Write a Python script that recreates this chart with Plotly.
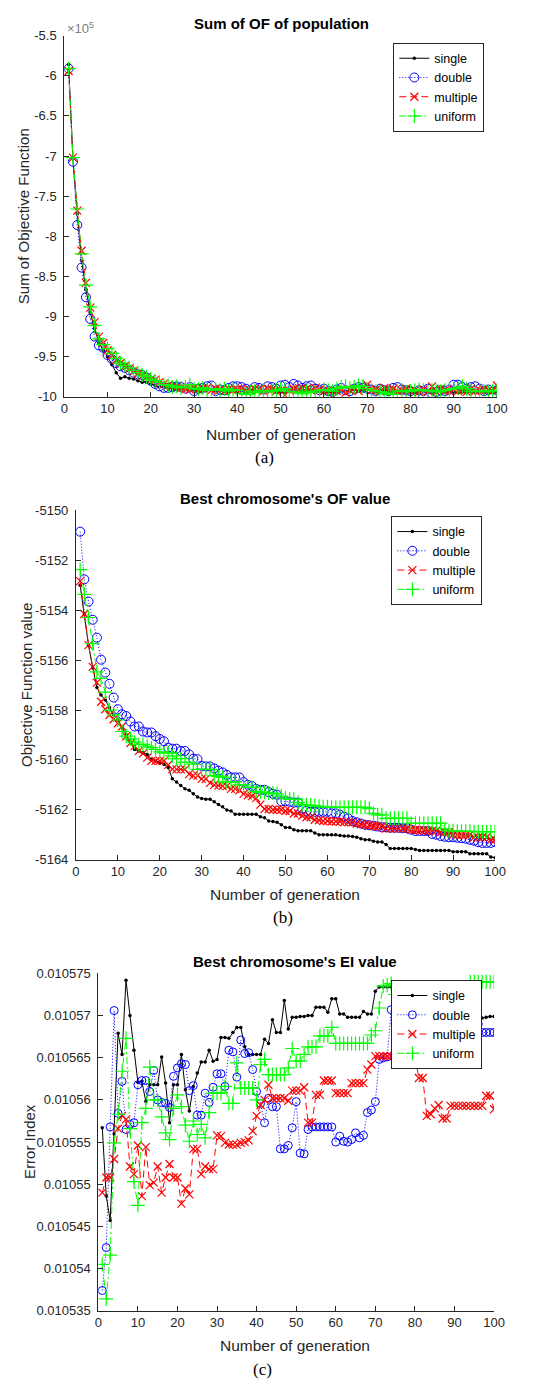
import plotly.graph_objects as go

# ---------------- data ----------------
# (a) Sum of OF of population, values in units of 1e5
single_a = [-5.86, -7.03, -7.72, -8.30, -8.66, -8.95, -9.15, -9.33, -9.42, -9.50,
            -9.60, -9.70, -9.77, -9.75, -9.77, -9.78, -9.80, -9.82, -9.82, -9.84,
            -9.86, -9.88, -9.88, -9.89, -9.90, -9.89, -9.90, -9.90, -9.91, -9.92,
            -9.90, -9.91, -9.92, -9.91, -9.93, -9.92, -9.91, -9.93, -9.92, -9.93,
            -9.92, -9.94, -9.93, -9.92, -9.93, -9.94, -9.93, -9.92, -9.93, -9.94,
            -9.95, -9.93, -9.92, -9.94, -9.93, -9.92, -9.93, -9.94, -9.93, -9.92,
            -9.94, -9.95, -9.93, -9.92, -9.93, -9.92, -9.91, -9.93, -9.92, -9.91,
            -9.93, -9.94, -9.93, -9.92, -9.94, -9.93, -9.95, -9.94, -9.93, -9.94,
            -9.95, -9.94, -9.93, -9.94, -9.95, -9.94, -9.93, -9.94, -9.93, -9.94,
            -9.95, -9.94, -9.93, -9.94, -9.95, -9.94, -9.95, -9.94, -9.95, -9.94]
double_a = [-5.91, -7.07, -7.86, -8.39, -8.76, -9.03, -9.25, -9.36, -9.39, -9.48,
            -9.53, -9.58, -9.62, -9.64, -9.67, -9.70, -9.72, -9.73, -9.76, -9.80,
            -9.84, -9.87, -9.89, -9.89, -9.88, -9.87, -9.88, -9.90, -9.88, -9.93,
            -9.90, -9.89, -9.87, -9.86, -9.93, -9.91, -9.92, -9.89, -9.87, -9.87,
            -9.88, -9.90, -9.92, -9.88, -9.89, -9.91, -9.87, -9.88, -9.90, -9.86,
            -9.85, -9.88, -9.84, -9.86, -9.89, -9.87, -9.86, -9.90, -9.92, -9.90,
            -9.93, -9.94, -9.91, -9.89, -9.92, -9.93, -9.90, -9.88, -9.89, -9.90,
            -9.91, -9.93, -9.90, -9.92, -9.93, -9.89, -9.88, -9.91, -9.92, -9.93,
            -9.97, -9.92, -9.93, -9.90, -9.96, -9.94, -9.92, -9.93, -9.91, -9.85,
            -9.85, -9.88, -9.90, -9.88, -9.87, -9.90, -9.93, -9.91, -9.97, -9.92]
multiple_a = [-5.94, -7.02, -7.68, -8.18, -8.58, -8.89, -9.07, -9.25, -9.33, -9.42,
              -9.48, -9.54, -9.58, -9.62, -9.65, -9.68, -9.71, -9.74, -9.76, -9.78,
              -9.79, -9.82, -9.84, -9.86, -9.87, -9.88, -9.89, -9.90, -9.91, -9.89,
              -9.91, -9.90, -9.89, -9.92, -9.90, -9.91, -9.93, -9.90, -9.92, -9.91,
              -9.90, -9.93, -9.92, -9.90, -9.91, -9.93, -9.90, -9.91, -9.93, -9.92,
              -9.98, -9.92, -9.90, -9.91, -9.89, -9.90, -9.92, -9.89, -9.91, -9.93,
              -9.92, -9.98, -9.93, -9.91, -9.95, -9.92, -9.90, -9.93, -9.89, -9.85,
              -9.92, -9.91, -9.93, -9.89, -9.92, -9.90, -9.93, -9.92, -9.90, -9.93,
              -9.92, -9.94, -9.91, -9.93, -9.87, -9.94, -9.90, -9.92, -9.93, -9.91,
              -9.93, -9.92, -9.94, -9.90, -9.93, -9.92, -9.91, -9.92, -9.93, -9.86]
uniform_a = [-5.91, -7.02, -7.66, -8.22, -8.61, -8.88, -9.11, -9.28, -9.35, -9.40,
             -9.46, -9.52, -9.58, -9.61, -9.64, -9.67, -9.70, -9.73, -9.75, -9.78,
             -9.80, -9.82, -9.85, -9.86, -9.88, -9.87, -9.89, -9.88, -9.85, -9.90,
             -9.91, -9.89, -9.92, -9.90, -9.91, -9.92, -9.90, -9.93, -9.91, -9.92,
             -9.96, -9.97, -9.94, -9.93, -9.95, -9.92, -9.94, -9.93, -9.92, -9.91,
             -9.90, -9.93, -9.94, -9.95, -9.96, -9.93, -9.95, -9.94, -9.92, -9.91,
             -9.92, -9.93, -9.90, -9.88, -9.87, -9.89, -9.88, -9.86, -9.87, -9.90,
             -9.92, -9.93, -9.94, -9.96, -9.95, -9.97, -9.93, -9.92, -9.94, -9.93,
             -9.92, -9.91, -9.92, -9.93, -9.92, -9.94, -9.93, -9.92, -9.91, -9.90,
             -9.89, -9.87, -9.90, -9.93, -9.94, -9.92, -9.93, -9.94, -9.93, -9.92]

# (b) Best chromosome's OF value
single_b = [-5153.0, -5154.15, -5155.4, -5156.3, -5157.1, -5157.4, -5157.6, -5157.9, -5158.2, -5158.4,
            -5158.7, -5159.0, -5159.3, -5159.58, -5159.64, -5159.71, -5159.78, -5159.97, -5160.04, -5160.1,
            -5160.17, -5160.3, -5160.76, -5160.89, -5161.03, -5161.16, -5161.22, -5161.36, -5161.49, -5161.55,
            -5161.58, -5161.58, -5161.68, -5161.79, -5161.88, -5162.01, -5162.05, -5162.18, -5162.18, -5162.18,
            -5162.18, -5162.18, -5162.18, -5162.28, -5162.32, -5162.45, -5162.47, -5162.5, -5162.6, -5162.71,
            -5162.71, -5162.8, -5162.84, -5162.84, -5162.84, -5162.84, -5162.93, -5163.0, -5163.0, -5163.0,
            -5163.0, -5163.0, -5163.03, -5163.05, -5163.05, -5163.07, -5163.1, -5163.16, -5163.2, -5163.2,
            -5163.26, -5163.29, -5163.29, -5163.39, -5163.55, -5163.55, -5163.55, -5163.55, -5163.55, -5163.55,
            -5163.59, -5163.63, -5163.63, -5163.63, -5163.63, -5163.63, -5163.63, -5163.63, -5163.63, -5163.68,
            -5163.68, -5163.68, -5163.68, -5163.76, -5163.76, -5163.76, -5163.76, -5163.76, -5163.89, -5163.92]
double_b = [-5150.85, -5152.76, -5153.65, -5154.38, -5155.1, -5155.98, -5156.5, -5156.95, -5157.5, -5157.97,
            -5158.17, -5158.24, -5158.46, -5158.66, -5158.66, -5158.86, -5158.9, -5158.9, -5159.05, -5159.16,
            -5159.25, -5159.51, -5159.55, -5159.55, -5159.64, -5159.64, -5159.78, -5159.95, -5159.97, -5160.24,
            -5160.26, -5160.26, -5160.34, -5160.43, -5160.5, -5160.6, -5160.7, -5160.7, -5160.7, -5160.89,
            -5161.0, -5161.05, -5161.16, -5161.2, -5161.2, -5161.29, -5161.36, -5161.4, -5161.66, -5161.66,
            -5161.68, -5161.71, -5161.71, -5161.95, -5162.05, -5162.08, -5162.08, -5162.08, -5162.08, -5162.08,
            -5162.14, -5162.14, -5162.2, -5162.28, -5162.34, -5162.45, -5162.5, -5162.55, -5162.6, -5162.62,
            -5162.64, -5162.67, -5162.7, -5162.7, -5162.72, -5162.72, -5162.72, -5162.74, -5162.74, -5162.8,
            -5162.85, -5162.85, -5162.85, -5162.85, -5162.97, -5163.0, -5163.05, -5163.08, -5163.1, -5163.1,
            -5163.12, -5163.14, -5163.16, -5163.2, -5163.24, -5163.3, -5163.33, -5163.33, -5163.33, -5163.29]
multiple_b = [-5152.83, -5154.15, -5155.4, -5156.27, -5156.9, -5157.67, -5157.97, -5158.2, -5158.37, -5158.53,
              -5158.66, -5159.05, -5159.32, -5159.45, -5159.64, -5159.74, -5159.91, -5160.04, -5160.04, -5160.04,
              -5160.04, -5160.2, -5160.37, -5160.38, -5160.38, -5160.38, -5160.57, -5160.63, -5160.63, -5160.76,
              -5160.76, -5160.92, -5161.0, -5161.03, -5161.05, -5161.05, -5161.16, -5161.16, -5161.22, -5161.36,
              -5161.42, -5161.45, -5161.53, -5161.79, -5161.97, -5161.97, -5162.0, -5162.0, -5162.0, -5162.05,
              -5162.05, -5162.15, -5162.15, -5162.24, -5162.3, -5162.3, -5162.4, -5162.42, -5162.45, -5162.45,
              -5162.47, -5162.47, -5162.47, -5162.5, -5162.5, -5162.5, -5162.55, -5162.58, -5162.6, -5162.62,
              -5162.64, -5162.66, -5162.67, -5162.75, -5162.75, -5162.75, -5162.75, -5162.75, -5162.75, -5162.8,
              -5162.8, -5162.82, -5162.82, -5162.84, -5162.84, -5162.84, -5162.9, -5162.9, -5162.9, -5163.0,
              -5163.0, -5163.0, -5163.0, -5163.0, -5163.1, -5163.1, -5163.1, -5163.1, -5163.2, -5163.2]
uniform_b = [-5152.37, -5153.36, -5154.29, -5155.34, -5156.47, -5156.73, -5157.28, -5158.0, -5158.2, -5158.4,
             -5158.86, -5159.05, -5159.16, -5159.29, -5159.38, -5159.38, -5159.45, -5159.51, -5159.58, -5159.68,
             -5159.72, -5159.72, -5159.84, -5159.95, -5159.95, -5160.1, -5160.1, -5160.17, -5160.38, -5160.38,
             -5160.38, -5160.38, -5160.63, -5160.66, -5160.7, -5160.88, -5160.88, -5160.88, -5161.0, -5161.0,
             -5161.1, -5161.1, -5161.26, -5161.3, -5161.3, -5161.33, -5161.33, -5161.36, -5161.45, -5161.53,
             -5161.58, -5161.58, -5161.71, -5161.79, -5161.8, -5161.82, -5161.84, -5161.86, -5161.88, -5161.88,
             -5161.9, -5161.9, -5161.9, -5161.9, -5161.9, -5161.9, -5161.9, -5161.9, -5161.9, -5161.95,
             -5162.14, -5162.2, -5162.2, -5162.34, -5162.34, -5162.34, -5162.34, -5162.34, -5162.34, -5162.54,
             -5162.54, -5162.54, -5162.54, -5162.54, -5162.54, -5162.54, -5162.54, -5162.76, -5162.84, -5162.84,
             -5162.86, -5162.86, -5162.86, -5162.86, -5162.88, -5162.88, -5162.88, -5162.88, -5162.88, -5162.88]

# (c) Best chromosome's EI value
single_c = [0.0105567, 0.0105486, 0.0105457, 0.0105560, 0.0105679, 0.0105654, 0.0105742, 0.0105700, 0.0105659, 0.0105621,
            0.0105622, 0.0105598, 0.0105618, 0.0105618, 0.0105618, 0.0105651, 0.0105620, 0.0105573, 0.0105618, 0.0105618,
            0.0105654, 0.0105612, 0.0105587, 0.0105616, 0.0105632, 0.0105645, 0.0105645, 0.0105659, 0.0105646, 0.0105648,
            0.0105674, 0.0105674, 0.0105673, 0.0105680, 0.0105686, 0.0105686, 0.0105663, 0.0105654, 0.0105654, 0.0105654,
            0.0105654, 0.0105672, 0.0105667, 0.0105695, 0.0105680, 0.0105680, 0.0105718, 0.0105684, 0.0105698, 0.0105698,
            0.0105699, 0.0105699, 0.0105700, 0.0105700, 0.0105710, 0.0105710, 0.0105710, 0.0105704, 0.0105720, 0.0105720,
            0.0105702, 0.0105702, 0.0105698, 0.0105698, 0.0105698, 0.0105698, 0.0105705, 0.0105702, 0.0105702, 0.0105729,
            0.0105734, 0.0105734, 0.0105734, 0.0105734, 0.0105734, 0.0105734, 0.0105734, 0.0105734, 0.0105734, 0.0105734,
            0.0105734, 0.0105734, 0.0105734, 0.0105734, 0.0105715, 0.0105715, 0.0105715, 0.0105715, 0.0105715, 0.0105715,
            0.0105715, 0.0105715, 0.0105715, 0.0105715, 0.0105697, 0.0105697, 0.0105697, 0.0105698, 0.0105699, 0.0105699]
double_c = [0.0105374, 0.0105425, 0.0105568, 0.0105706, 0.0105584, 0.0105622, 0.0105565, 0.0105571, 0.0105573, 0.0105618,
            0.0105623, 0.0105623, 0.0105610, 0.0105635, 0.0105600, 0.0105597, 0.0105596, 0.0105591, 0.0105628, 0.0105638,
            0.0105643, 0.0105642, 0.0105611, 0.0105617, 0.0105582, 0.0105582, 0.0105608, 0.0105597, 0.0105615, 0.0105631,
            0.0105631, 0.0105616, 0.0105659, 0.0105657, 0.0105627, 0.0105671, 0.0105655, 0.0105656, 0.0105636, 0.0105610,
            0.0105596, 0.0105573, 0.0105602, 0.0105592, 0.0105592, 0.0105542, 0.0105542, 0.0105546, 0.0105567, 0.0105598,
            0.0105537, 0.0105536, 0.0105565, 0.0105568, 0.0105568, 0.0105568, 0.0105568, 0.0105568, 0.0105568, 0.0105550,
            0.0105557, 0.0105551, 0.0105550, 0.0105553, 0.0105561, 0.0105555, 0.0105558, 0.0105585, 0.0105588, 0.0105598,
            0.0105648, 0.0105650, 0.0105651, 0.0105707, 0.0105690, 0.0105690, 0.0105690, 0.0105690, 0.0105690, 0.0105690,
            0.0105690, 0.0105690, 0.0105690, 0.0105690, 0.0105690, 0.0105690, 0.0105690, 0.0105690, 0.0105690, 0.0105690,
            0.0105690, 0.0105690, 0.0105690, 0.0105690, 0.0105690, 0.0105690, 0.0105680, 0.0105680, 0.0105680, 0.0105680]
multiple_c = [0.0105490, 0.0105508, 0.0105508, 0.0105530, 0.0105566, 0.0105581, 0.0105577, 0.0105521, 0.0105512, 0.0105546,
              0.0105486, 0.0105544, 0.0105499, 0.0105502, 0.0105521, 0.0105490, 0.0105508, 0.0105524, 0.0105508, 0.0105508,
              0.0105477, 0.0105495, 0.0105488, 0.0105542, 0.0105542, 0.0105512, 0.0105521, 0.0105518, 0.0105518, 0.0105558,
              0.0105557, 0.0105549, 0.0105547, 0.0105547, 0.0105547, 0.0105549, 0.0105550, 0.0105552, 0.0105563, 0.0105581,
              0.0105594, 0.0105600, 0.0105618, 0.0105602, 0.0105602, 0.0105602, 0.0105602, 0.0105599, 0.0105611, 0.0105611,
              0.0105611, 0.0105615, 0.0105573, 0.0105573, 0.0105606, 0.0105606, 0.0105623, 0.0105623, 0.0105623, 0.0105608,
              0.0105608, 0.0105608, 0.0105608, 0.0105620, 0.0105620, 0.0105620, 0.0105620, 0.0105636, 0.0105642, 0.0105652,
              0.0105652, 0.0105652, 0.0105652, 0.0105652, 0.0105652, 0.0105652, 0.0105652, 0.0105652, 0.0105652, 0.0105652,
              0.0105626, 0.0105626, 0.0105581, 0.0105583, 0.0105590, 0.0105594, 0.0105578, 0.0105578, 0.0105593, 0.0105593,
              0.0105593, 0.0105593, 0.0105593, 0.0105593, 0.0105593, 0.0105593, 0.0105593, 0.0105605, 0.0105605, 0.0105589]
uniform_c = [0.0105405, 0.0105364, 0.0105416, 0.0105549, 0.0105583, 0.0105634, 0.0105673, 0.0105566, 0.0105503, 0.0105475,
             0.0105573, 0.0105590, 0.0105639, 0.0105600, 0.0105600, 0.0105580, 0.0105561, 0.0105553, 0.0105590, 0.0105606,
             0.0105592, 0.0105570, 0.0105551, 0.0105575, 0.0105559, 0.0105571, 0.0105555, 0.0105585, 0.0105608, 0.0105608,
             0.0105608, 0.0105616, 0.0105596, 0.0105596, 0.0105644, 0.0105614, 0.0105614, 0.0105614, 0.0105614, 0.0105600,
             0.0105642, 0.0105648, 0.0105630, 0.0105630, 0.0105630, 0.0105630, 0.0105630, 0.0105638, 0.0105661, 0.0105646,
             0.0105646, 0.0105654, 0.0105663, 0.0105663, 0.0105663, 0.0105676, 0.0105676, 0.0105676, 0.0105686, 0.0105667,
             0.0105667, 0.0105667, 0.0105667, 0.0105667, 0.0105667, 0.0105667, 0.0105667, 0.0105667, 0.0105677, 0.0105682,
             0.0105709, 0.0105735, 0.0105736, 0.0105738, 0.0105725, 0.0105725, 0.0105725, 0.0105725, 0.0105725, 0.0105725,
             0.0105725, 0.0105725, 0.0105725, 0.0105725, 0.0105725, 0.0105725, 0.0105725, 0.0105725, 0.0105725, 0.0105725,
             0.0105725, 0.0105725, 0.0105725, 0.0105740, 0.0105740, 0.0105740, 0.0105740, 0.0105740, 0.0105740, 0.0105740]

series_names = ["single", "double", "multiple", "uniform"]

x_ticks = [0, 10, 20, 30, 40, 50, 60, 70, 80, 90, 100]
a_ticks = [-10, -9.5, -9, -8.5, -8, -7.5, -7, -6.5, -6, -5.5]
a_ticktext = ["-10", "-9.5", "-9", "-8.5", "-8", "-7.5", "-7", "-6.5", "-6", "-5.5"]
b_ticks = [-5164, -5162, -5160, -5158, -5156, -5154, -5152, -5150]
b_ticktext = ["-5164", "-5162", "-5160", "-5158", "-5156", "-5154", "-5152", "-5150"]
c_ticks = [0.010535, 0.01054, 0.010545, 0.01055, 0.010555, 0.01056, 0.010565, 0.01057, 0.010575]
c_ticktext = ["0.010535", "0.01054", "0.010545", "0.01055", "0.010555", "0.01056", "0.010565", "0.01057", "0.010575"]

# ---------------- layout helpers ----------------
W, H = 542, 1387
FONT = "Liberation Sans, Arial, sans-serif"
AXC = "#262626"


def px_x(p):
    return p / W


def px_y(p):
    return 1 - p / H


styles = [
    dict(line=dict(color="#000000", width=1, dash="solid"),
         marker=dict(symbol="circle", size=3.5, color="#000000")),
    dict(line=dict(color="#0000FF", width=1, dash="1px,2px"),
         marker=dict(symbol="circle-open", size=9, color="#0000FF", line=dict(color="#0000FF", width=1))),
    dict(line=dict(color="#FF0000", width=1, dash="7px,4px"),
         marker=dict(symbol="x-thin-open", size=8, color="#FF0000", line=dict(color="#FF0000", width=1.2))),
    dict(line=dict(color="#00FF00", width=1, dash="7px,3px,2px,3px"),
         marker=dict(symbol="cross-thin-open", size=10, color="#00FF00", line=dict(color="#00FF00", width=1.2))),
]

fig = go.Figure()

panels = [
    ("x", "y", "legend", [single_a, double_a, multiple_a, uniform_a]),
    ("x2", "y2", "legend2", [single_b, double_b, multiple_b, uniform_b]),
    ("x3", "y3", "legend3", [single_c, double_c, multiple_c, uniform_c]),
]

for xa, ya, lg, data in panels:
    for name, vals, st in zip(series_names, data, styles):
        mk = dict(st["marker"])
        if xa == "x3" and name == "double":
            mk = dict(mk, size=8)
        fig.add_trace(go.Scatter(
            x=list(range(1, len(vals) + 1)), y=vals, name=name, mode="lines+markers",
            line=st["line"], marker=mk, xaxis=xa, yaxis=ya, legend=lg, hoverinfo="skip"))

axis_common = dict(showgrid=False, zeroline=False, showline=True, linecolor=AXC, linewidth=1,
                   ticks="inside", ticklen=5, tickcolor=AXC, mirror=False,
                   tickfont=dict(family=FONT, size=13, color=AXC))
yextra = dict(ticklabelstandoff=4)

fig.update_layout(
    width=W, height=H, margin=dict(l=0, r=0, t=0, b=0),
    paper_bgcolor="white", plot_bgcolor="white", showlegend=True,
    xaxis=dict(domain=[px_x(62), px_x(507)], range=[0, 100], tickvals=x_ticks, anchor="y", **axis_common),
    yaxis=dict(domain=[px_y(394), px_y(29)], range=[-10, -5.5], tickvals=a_ticks, ticktext=a_ticktext,
               anchor="x", **axis_common, **yextra),
    xaxis2=dict(domain=[px_x(74), px_x(505)], range=[0, 100], tickvals=x_ticks, anchor="y2", **axis_common),
    yaxis2=dict(domain=[px_y(862), px_y(509)], range=[-5164, -5150], tickvals=b_ticks, ticktext=b_ticktext,
                anchor="x2", **axis_common, **yextra),
    xaxis3=dict(domain=[px_x(97), px_x(504)], range=[0, 100], tickvals=x_ticks, anchor="y3", **axis_common),
    yaxis3=dict(domain=[px_y(1318), px_y(977)], range=[0.010535, 0.010575], tickvals=c_ticks,
                ticktext=c_ticktext, anchor="x3", **axis_common, **yextra),
)

legend_common = dict(bgcolor="white", bordercolor=AXC, borderwidth=1, xanchor="right", yanchor="middle",
                     font=dict(family=FONT, size=12.5, color="#000000"), itemwidth=30,
                     traceorder="normal", tracegroupgap=0)
fig.update_layout(
    legend=dict(x=px_x(494), y=px_y(81), **legend_common),
    legend2=dict(x=px_x(492), y=px_y(559.5), **legend_common),
    legend3=dict(x=px_x(492), y=px_y(1028.5), **legend_common),
)

ann = []


def text(t, x, y, size, bold=False, angle=0, family=FONT, color="#000000", xanchor="center"):
    ann.append(dict(text=("<b>%s</b>" % t) if bold else t, x=px_x(x), y=px_y(y), xref="paper", yref="paper",
                    showarrow=False, xanchor=xanchor, yanchor="middle", textangle=angle,
                    font=dict(family=family, size=size, color=color)))


# titles
text("Sum of OF of population", 285, 17, 15, bold=True)
text("Best chromosome's OF value", 289, 497, 15, bold=True)
text("Best chromosome's EI value", 299, 965, 15, bold=True)
# x-axis titles
text("Number of generation", 285, 432, 15.5, color=AXC)
text("Number of generation", 289, 897, 15.5, color=AXC)
text("Number of generation", 299, 1353, 15.5, color=AXC)
# y-axis titles
text("Sum of Objective Function", 20, 211, 15, angle=-90, color=AXC)
text("Objective Function value", 23, 685, 15, angle=-90, color=AXC)
text("Error Index", 26, 1147, 15, angle=-90, color=AXC)
# exponent
text("×10<sup>5</sup>", 63, 21, 13, color="#7f7f7f", xanchor="left")
# panel labels
SERIF = "Liberation Serif, Times New Roman, serif"
text("(a)", 268, 455, 17, family=SERIF)
text("(b)", 287, 920, 17, family=SERIF)
text("(c)", 266, 1377, 17, family=SERIF)

fig.update_layout(annotations=ann, hovermode=False)

fig.write_html("out.html", config={"displayModeBar": False, "staticPlot": True},
               post_script="document.body.style.margin='0px';document.body.style.overflow='hidden';")
